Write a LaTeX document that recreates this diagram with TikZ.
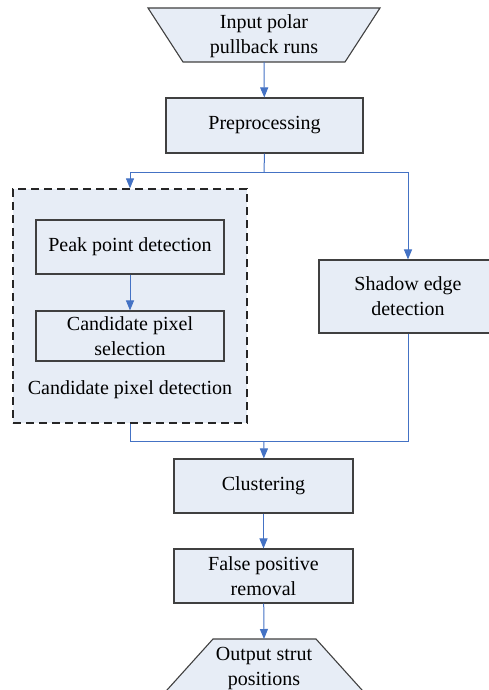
\documentclass[tikz,border=0pt]{standalone}
\usepackage{fontspec}
\setmainfont{LiberationSerif-Regular.ttf}
\usetikzlibrary{arrows.meta}
\definecolor{boxfill}{RGB}{231,237,246}
\definecolor{flowblue}{RGB}{68,114,196}
\definecolor{boxline}{RGB}{64,64,64}

\begin{document}
\begin{tikzpicture}[x=1pt, y=-1pt, >={Triangle[length=10pt,width=8pt]},
  font=\rmfamily\fontsize{20}{25}\selectfont,
  stage/.style={draw=boxline, line width=1.1pt, fill=boxfill, inner sep=0pt, align=center},
  flow/.style={draw=flowblue, line width=1pt},
  flowarrow/.style={flow, ->, flowblue}]
  \useasboundingbox (0,0) rectangle (488,690);

  % Input / output trapezia
  \filldraw[draw=boxline, line width=1.1pt, fill=boxfill] (148,8) -- (380,8) -- (345,62) -- (183,62) -- cycle;
  \node[align=center] (in) at (264,36) {Input polar\\pullback runs};
  \coordinate (in-s) at (264,62);
  \filldraw[draw=boxline, line width=1.1pt, fill=boxfill] (213,639) -- (316,639) -- (371,700) -- (158,700) -- cycle;
  \node[align=center] (out) at (264,668) {Output strut\\positions};
  \coordinate (out-n) at (264,639);

  % Stages
  \node[stage, minimum width=197pt, minimum height=55pt] (pre) at (264.5,125.5) {Preprocessing};
  \node[stage, draw=black!85, dash pattern=on 8pt off 5pt, line width=1.3pt,
        minimum width=234pt, minimum height=234pt] (grp) at (130,306) {};
  \node[stage, minimum width=188pt, minimum height=54pt] (peak) at (130,247) {Peak point detection};
  \node[stage, minimum width=188pt, minimum height=50pt] (cand) at (130,336) {Candidate pixel\\selection};
  \node (grp-label) at (130,390) {Candidate pixel detection};
  \node[stage, minimum width=178pt, minimum height=73pt] (shadow) at (408,296.5) {Shadow edge\\detection};
  \node[stage, minimum width=179pt, minimum height=54pt] (clus) at (263.5,486) {Clustering};
  \node[stage, minimum width=179pt, minimum height=54pt] (fp) at (263.5,576) {False positive\\removal};

  % Split and join points
  \coordinate (split) at (264,172);
  \coordinate (join) at (264,441);

  % Connectors
  \draw[flowarrow] (in-s) -- (pre);
  \draw[flow] (pre.south) -- (split);
  \draw[flowarrow] (split) -| (grp.north);
  \draw[flowarrow] (split) -| (shadow.north);
  \draw[flowarrow] (peak) -- (cand);
  \draw[flow] (grp.south) |- (join);
  \draw[flow] (shadow.south) |- (join);
  \draw[flowarrow] (join) -- (clus);
  \draw[flowarrow] (clus) -- (fp);
  \draw[flowarrow] (fp) -- (out-n);
\end{tikzpicture}
\end{document}
